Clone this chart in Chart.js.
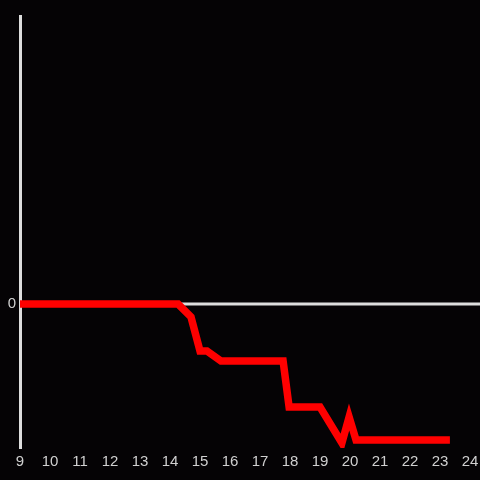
<!DOCTYPE html>
<html><head><meta charset="utf-8">
<script src="https://cdn.jsdelivr.net/npm/chart.js@4"></script>
<style>html,body{margin:0;padding:0;background:#050305;}#w{width:480px;height:480px;}</style>
</head><body><div id="w"><canvas id="c" width="480" height="480"></canvas></div>
<script>
const hours = [9, 14.27, 14.7, 15.0, 15.23, 15.7, 17.77, 17.97, 19.0, 19.73, 19.97, 20.2, 23.33];
const values = [0, 0, -0.09, -0.326, -0.326, -0.396, -0.396, -0.715, -0.715, -0.965, -0.785, -0.944, -0.944];
const xTicks = [9,10,11,12,13,14,15,16,17,18,19,20,21,22,23,24];
const yTicks = [0];

const zeroLine = {
  id: 'zeroLine',
  beforeDatasetsDraw(chart) {
    const ctx = chart.ctx, y = chart.scales.y.getPixelForValue(0);
    ctx.save();
    ctx.strokeStyle = '#dddddd';
    ctx.lineWidth = 3;
    ctx.beginPath();
    ctx.moveTo(chart.chartArea.left, y);
    ctx.lineTo(chart.width, y);
    ctx.stroke();
    ctx.restore();
  }
};

new Chart(document.getElementById('c'), {
  type: 'line',
  data: { datasets: [{
    data: hours.map((h, i) => ({x: h, y: values[i]})),
    borderColor: '#ff0000', borderWidth: 7.5, pointRadius: 0, tension: 0,
    borderJoinStyle: 'miter', borderCapStyle: 'butt', fill: false
  }]},
  options: {
    responsive: false, animation: false,
    layout: { padding: { top: 16, right: 10, left: 0, bottom: 0 } },
    plugins: { legend: { display: false }, tooltip: { enabled: false } },
    scales: {
      x: { type: 'linear', min: 9, max: 24,
        afterBuildTicks: s => { s.ticks = xTicks.map(v => ({value: v})); },
        afterFit: s => { s.height = 32; s.paddingLeft = 0; s.paddingRight = 0; },
        grid: { display: false, drawTicks: false },
        border: { display: false },
        ticks: { color: '#d0d0d0', padding: 5, font: { family: 'Liberation Sans', size: 15 }, maxRotation: 0, autoSkip: false }
      },
      y: { type: 'linear', min: -1, max: 2,
        afterBuildTicks: s => { s.ticks = yTicks.map(v => ({value: v})); },
        afterFit: s => { s.width = 20; s.paddingTop = 0; s.paddingBottom = 0; },
        grid: { display: false, drawTicks: false },
        border: { display: true, color: '#dddddd', width: 3 },
        ticks: { color: '#d0d0d0', padding: 4, font: { family: 'Liberation Sans', size: 15 } }
      }
    }
  },
  plugins: [zeroLine]
});
</script></body></html>
